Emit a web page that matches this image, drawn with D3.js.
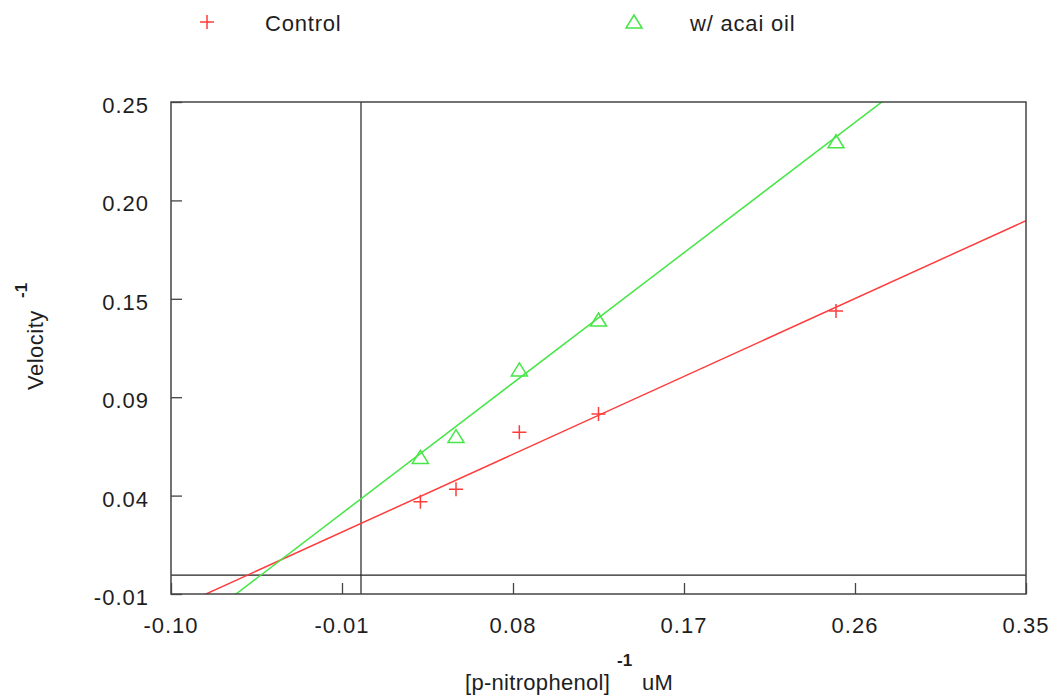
<!DOCTYPE html>
<html>
<head>
<meta charset="utf-8">
<script src="https://cdn.jsdelivr.net/npm/d3@7"></script>
<style>
  html, body { margin: 0; padding: 0; background: #fff; }
  svg { display: block; }
  text { font-family: "Liberation Sans", Arial, sans-serif; fill: #1e1e1e; }
</style>
</head>
<body>
<svg id="chart" width="1050" height="695"></svg>
<script>
// Lineweaver–Burk data: 1/[S] (uM^-1) against 1/velocity
const seriesNames = ["Control", "w/ acai oil"];
const seriesColors = ["#ff3c3c", "#45e645"];
const invSubstrate = [0.03125, 0.05, 0.08333, 0.125, 0.25];
const controlInvVelocity = [0.0388, 0.0453, 0.0755, 0.0851, 0.1396];
const acaiInvVelocity = [0.0622, 0.0732, 0.1084, 0.1348, 0.2290];

// fitted lines: y = slope * x + intercept
const fitSlopes = [0.4571, 0.765];
const fitIntercepts = [0.0273, 0.0403];

const xTickValues = [-0.10, -0.01, 0.08, 0.17, 0.26, 0.35];
const xTickLabels = ["-0.10", "-0.01", "0.08", "0.17", "0.26", "0.35"];
const yTickValues = [-0.01, 0.042, 0.094, 0.146, 0.198, 0.25];
const yTickLabels = ["-0.01", "0.04", "0.09", "0.15", "0.20", "0.25"];

const xDomain = [-0.10, 0.35];
const yDomain = [-0.01, 0.25];

const svg = d3.select("#chart");
const margin = { left: 171, top: 102, right: 24, bottom: 101 };
const W = 1050 - margin.left - margin.right;
const H = 695 - margin.top - margin.bottom;

const x = d3.scaleLinear().domain(xDomain).range([margin.left, margin.left + W]);
const y = d3.scaleLinear().domain(yDomain).range([margin.top + H, margin.top]);

const fontSize = 22;

// clip for the fitted lines
svg.append("defs").append("clipPath").attr("id", "plotClip")
  .append("rect").attr("x", margin.left).attr("y", margin.top)
  .attr("width", W).attr("height", H);

// zero reference lines
svg.append("line")
  .attr("x1", x(0)).attr("x2", x(0))
  .attr("y1", margin.top).attr("y2", margin.top + H)
  .attr("stroke", "#222").attr("stroke-width", 1.2);
svg.append("line")
  .attr("x1", margin.left).attr("x2", margin.left + W)
  .attr("y1", y(0)).attr("y2", y(0))
  .attr("stroke", "#222").attr("stroke-width", 1.2);

// inward ticks
const xAxis = svg.append("g")
  .attr("transform", `translate(0,${margin.top + H})`)
  .call(d3.axisBottom(x).tickValues(xTickValues).tickSizeInner(-11).tickSizeOuter(0).tickFormat(""));
const yAxis = svg.append("g")
  .attr("transform", `translate(${margin.left},0)`)
  .call(d3.axisLeft(y).tickValues(yTickValues).tickSizeInner(-11).tickSizeOuter(0).tickFormat(""));
[xAxis, yAxis].forEach(g => {
  g.select(".domain").remove();
  g.selectAll(".tick line").attr("stroke", "#444").attr("stroke-width", 1.3);
});

// tick labels
svg.append("g").selectAll("text")
  .data(xTickValues)
  .join("text")
  .attr("x", d => x(d))
  .attr("y", margin.top + H + 39)
  .attr("text-anchor", "middle")
  .attr("font-size", fontSize)
  .attr("letter-spacing", 1)
  .text((d, i) => xTickLabels[i]);

svg.append("g").selectAll("text")
  .data(yTickValues)
  .join("text")
  .attr("x", margin.left - 22)
  .attr("y", d => y(d) + 11)
  .attr("text-anchor", "end")
  .attr("font-size", fontSize)
  .attr("letter-spacing", 1)
  .text((d, i) => yTickLabels[i]);

// fitted lines
const lineGroup = svg.append("g").attr("clip-path", "url(#plotClip)");
fitSlopes.forEach((m, i) => {
  const b = fitIntercepts[i];
  lineGroup.append("line")
    .attr("x1", x(xDomain[0])).attr("y1", y(m * xDomain[0] + b))
    .attr("x2", x(xDomain[1])).attr("y2", y(m * xDomain[1] + b))
    .attr("stroke", seriesColors[i]).attr("stroke-width", 1.5);
});

// markers
const plusPath = "M-7,0H7M0,-7V7";
const triPath = "M0,-7L8,6L-8,6Z";

svg.append("g").selectAll("path")
  .data(invSubstrate.map((s, i) => [s, controlInvVelocity[i]]))
  .join("path")
  .attr("transform", d => `translate(${x(d[0])},${y(d[1])})`)
  .attr("d", plusPath)
  .attr("fill", "none")
  .attr("stroke", seriesColors[0])
  .attr("stroke-width", 1.5);

svg.append("g").selectAll("path")
  .data(invSubstrate.map((s, i) => [s, acaiInvVelocity[i]]))
  .join("path")
  .attr("transform", d => `translate(${x(d[0])},${y(d[1])})`)
  .attr("d", triPath)
  .attr("fill", "none")
  .attr("stroke", seriesColors[1])
  .attr("stroke-width", 1.5);

// plot frame
svg.append("rect")
  .attr("x", margin.left).attr("y", margin.top)
  .attr("width", W).attr("height", H)
  .attr("fill", "none").attr("stroke", "#444").attr("stroke-width", 1.5);

// legend
const legendItems = [
  { name: seriesNames[0], path: plusPath, color: seriesColors[0], mx: 207, tx: 265 },
  { name: seriesNames[1], path: triPath, color: seriesColors[1], mx: 634, tx: 690 }
];
const legend = svg.append("g");
legendItems.forEach(it => {
  legend.append("path")
    .attr("transform", `translate(${it.mx},22)`)
    .attr("d", it.path)
    .attr("fill", "none").attr("stroke", it.color).attr("stroke-width", 1.5);
  legend.append("text")
    .attr("x", it.tx).attr("y", 31)
    .attr("font-size", fontSize)
    .attr("letter-spacing", 0.8)
    .text(it.name);
});

// axis titles
const yTitle = svg.append("g").attr("transform", "translate(43,390) rotate(-90)");
yTitle.append("text")
  .attr("x", 0).attr("y", 0)
  .attr("font-size", fontSize)
  .attr("letter-spacing", 0.5)
  .text("Velocity");
yTitle.append("text")
  .attr("x", 92).attr("y", -16)
  .attr("font-size", 17)
  .attr("font-weight", "bold")
  .text("-1");

const xTitle = svg.append("g");
xTitle.append("text")
  .attr("x", 465).attr("y", 690)
  .attr("font-size", fontSize)
  .attr("letter-spacing", 0.3)
  .text("[p-nitrophenol]");
xTitle.append("text")
  .attr("x", 617).attr("y", 666)
  .attr("font-size", 17)
  .attr("font-weight", "bold")
  .text("-1");
xTitle.append("text")
  .attr("x", 642).attr("y", 690)
  .attr("font-size", fontSize)
  .attr("letter-spacing", 0.3)
  .text("uM");
</script>
</body>
</html>
